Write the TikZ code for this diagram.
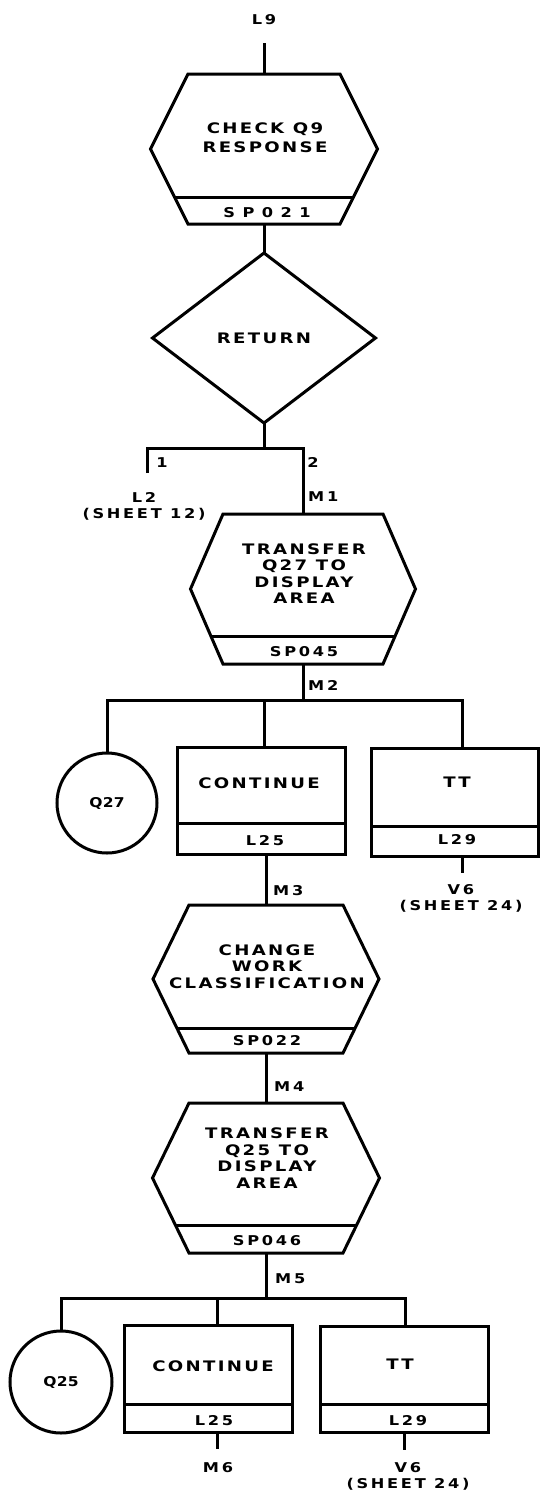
\documentclass[tikz,border=0pt]{standalone}
\usepackage{fontspec}
\newfontfamily\wfont[LetterSpace=16,FakeStretch=1.25]{DejaVu Sans}
\newfontfamily\sfontx[LetterSpace=20,FakeStretch=1.2]{DejaVu Sans}
\newfontfamily\tfont[LetterSpace=2,FakeStretch=1.15]{DejaVu Sans}
\newfontfamily\xfont[LetterSpace=55,FakeStretch=1.2]{DejaVu Sans}
\usetikzlibrary{shapes.geometric}
\tikzset{
  ln/.style={line width=3pt, line join=miter},
  big/.style={font=\wfont\bfseries\fontsize{14.5}{16.5}\selectfont, inner sep=0pt, align=center},
  sm/.style={font=\sfontx\bfseries\fontsize{13.5}{16}\selectfont, inner sep=0pt, align=center},
  one14/.style={font=\wfont\bfseries\fontsize{14.5}{16.5}\selectfont, inner sep=0pt, text height=10.6pt, text depth=0pt},
  one13/.style={font=\sfontx\bfseries\fontsize{13.5}{16}\selectfont, inner sep=0pt, text height=9.8pt, text depth=0pt},
  sp21/.style={font=\xfont\bfseries\fontsize{13.5}{16}\selectfont, inner sep=0pt, text height=9.8pt, text depth=0pt},
  boxnode/.style={draw, ln, rectangle, inner sep=0pt, outer sep=0pt},
  connector/.style={draw, ln, circle, inner sep=0pt, outer sep=0pt, font=\tfont\bfseries\fontsize{13.5}{16}\selectfont, text height=9.8pt, text depth=0pt},
  decision/.style={draw, ln, diamond, inner sep=0pt, outer sep=0pt, font=\wfont\bfseries\fontsize{14.5}{16.5}\selectfont, text height=10.6pt, text depth=0pt},
}
% #1 name, #2 cx, #3 top, #4 bottom, #5 half top width, #6 half mid width, #7 divider y
\newcommand\hexproc[7]{%
  \pgfmathsetmacro\hmid{(#3+#4)/2}%
  \pgfmathsetmacro\hh{#4-#3}%
  \pgfmathsetmacro\hw{2*#6}%
  \node[inner sep=0pt, outer sep=0pt, minimum width=\hw pt, minimum height=\hh pt] (#1) at (#2,\hmid) {};
  \draw[ln] (#2-#5,#3) -- (#2+#5,#3) -- (#2+#6,\hmid) -- (#2+#5,#4) -- (#2-#5,#4) -- (#2-#6,\hmid) -- cycle;
  \begin{scope}
    \clip (#2-#5,#3) -- (#2+#5,#3) -- (#2+#6,\hmid) -- (#2+#5,#4) -- (#2-#5,#4) -- (#2-#6,\hmid) -- cycle;
    \draw[ln] (#2-#6,#7) -- (#2+#6,#7);
  \end{scope}
}
\begin{document}
\begin{tikzpicture}[x=1pt,y=-1pt]
\fill[white] (0,0) rectangle (541,1502);
\useasboundingbox (0,0) rectangle (541,1502);

% ---- top: L9 and CHECK Q9 RESPONSE
\node[one13] (l9) at (264,20) {L9};
\coordinate (l9end) at (264,43);
\hexproc{h1}{264}{74}{224}{76}{113.5}{197}
\draw[ln] (l9end) -- (h1.north);
\node[big] (t1) at (265,137.5) {CHECK Q9\\[3pt]RESPONSE};
\node[sp21] (s1) at (267,212.5) {SP021};

% ---- RETURN decision
\node[decision, minimum width=223pt, minimum height=170pt] (d1) at (264,338) {RETURN};
\draw[ln] (h1.south) -- (d1.north);
\coordinate (j1) at (264,448);
\draw[ln] (d1.south) -- (j1);

% ---- TRANSFER Q27
\hexproc{h2}{303}{514}{664}{80}{112.5}{636}
\coordinate (b1) at (147,473);
\draw[ln] (b1) |- (j1) -| (h2.north);
\node[one13] (n1) at (162,463) {1};
\node[one13] (n2) at (313,463) {2};
\node[sm, anchor=north] (l2) at (144,492.1) {L2\\(SHEET 12)};
\node[one13, anchor=west] (m1) at (308,497) {M1};
\node[big] (t2) at (304,573.5) {TRANSFER\\Q27 TO\\DISPLAY\\AREA};
\node[one13] (s2) at (304,652) {SP045};

% ---- first branch row
\coordinate (j2) at (303,700);
\draw[ln] (h2.south) -- (j2);
\node[one13, anchor=west] (m2) at (308,686) {M2};
\node[connector, minimum size=100pt] (q27) at (107,803) {Q27};
\node[boxnode, minimum width=168pt, minimum height=107pt] (c1) at (261,800.5) {};
\draw[ln] (c1.west |- 0,823) -- (c1.east |- 0,823);
\node[one14] (c1t) at (259,783) {CONTINUE};
\node[one13] (c1l) at (265,841) {L25};
\node[boxnode, minimum width=167pt, minimum height=108pt] (tt1) at (454.5,802) {};
\draw[ln] (tt1.west |- 0,826) -- (tt1.east |- 0,826);
\node[one14] (tt1t) at (457,782) {TT};
\node[one13] (tt1l) at (457,840) {L29};
\draw[ln] (q27.north) |- (j2) -| (tt1.north -| 462,0);
\coordinate (b2a) at (264,700);
\draw[ln] (b2a) -- (b2a |- c1.north);
\coordinate (v6a) at (462,873);
\draw[ln] (v6a |- tt1.south) -- (v6a);
\node[sm, anchor=north] (v6at) at (461,884.1) {V6\\(SHEET 24)};

% ---- CHANGE WORK CLASSIFICATION
\hexproc{h3}{266}{905}{1053}{77}{113}{1028}
\draw[ln] (h3.north |- c1.south) -- (h3.north);
\node[one13, anchor=west] (m3) at (273,891) {M3};
\node[big] (t3) at (267,966.5) {CHANGE\\WORK\\CLASSIFICATION};
\node[one13] (s3) at (267,1041) {SP022};

% ---- TRANSFER Q25
\hexproc{h4}{266}{1103}{1253}{77}{113.5}{1225}
\draw[ln] (h3.south) -- (h4.north);
\node[one13, anchor=west] (m4) at (274,1087) {M4};
\node[big] (t4) at (267,1158) {TRANSFER\\Q25 TO\\DISPLAY\\AREA};
\node[one13] (s4) at (267,1241) {SP046};

% ---- second branch row
\coordinate (j3) at (266,1298);
\draw[ln] (h4.south) -- (j3);
\node[one13, anchor=west] (m5) at (275,1279) {M5};
\node[connector, minimum size=102pt] (q25) at (61,1382) {Q25};
\node[boxnode, minimum width=168pt, minimum height=107pt] (c2) at (208,1378.5) {};
\draw[ln] (c2.west |- 0,1404) -- (c2.east |- 0,1404);
\node[one14] (c2t) at (213,1366) {CONTINUE};
\node[one13] (c2l) at (214,1421) {L25};
\node[boxnode, minimum width=168pt, minimum height=106pt] (tt2) at (404,1379) {};
\draw[ln] (tt2.west |- 0,1404) -- (tt2.east |- 0,1404);
\node[one14] (tt2t) at (400,1364) {TT};
\node[one13] (tt2l) at (408,1421) {L29};
\draw[ln] (q25.north) |- (j3) -| (tt2.north -| 405,0);
\coordinate (b3a) at (217,1298);
\draw[ln] (b3a) -- (b3a |- c2.north);
\coordinate (m6e) at (217,1449);
\draw[ln] (m6e |- c2.south) -- (m6e);
\node[one13] (m6) at (218,1468) {M6};
\coordinate (v6b) at (404,1450);
\draw[ln] (v6b |- tt2.south) -- (v6b);
\node[sm, anchor=north] (v6bt) at (408,1462.1) {V6\\(SHEET 24)};
\end{tikzpicture}
\end{document}
